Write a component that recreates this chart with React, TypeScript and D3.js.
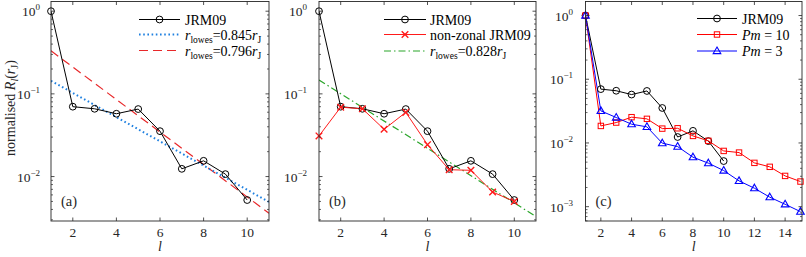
import React from "react";
import * as d3 from "d3";

// ---- data ----
const lA = [1, 2, 3, 4, 5, 6, 7, 8, 9, 10];
const jrm09 = [1.0, 0.070, 0.066, 0.0575, 0.0655, 0.0354, 0.0124, 0.0155, 0.0107, 0.0052];
const nonZonal = [0.031, 0.069, 0.066, 0.0373, 0.0598, 0.0243, 0.0121, 0.0119, 0.0065, 0.0050];
const fitL = [1, 11];
const fit845 = [0.144, 0.00493];
const fit796 = [0.332, 0.0036];
const fit828 = [0.147, 0.00328];
const lC = [1, 2, 3, 4, 5, 6, 7, 8, 9, 10, 11, 12, 13, 14, 15];
const pm10 = [1.0, 0.0185, 0.0209, 0.0254, 0.0239, 0.0168, 0.0170, 0.0129, 0.0108, 0.0075, 0.00707, 0.00487, 0.00422, 0.00304, 0.00248];
const pm3 = [1.0, 0.0319, 0.0251, 0.0197, 0.0179, 0.00993, 0.00877, 0.00598, 0.00482, 0.00369, 0.00254, 0.00195, 0.00141, 0.00109, 0.000837];
const xTicksAB = [2, 4, 6, 8, 10];
const xTicksC = [2, 4, 6, 8, 10, 12, 14];

const FONT = "'Liberation Serif', 'DejaVu Serif', serif";
const AX = "#262626";

type Series = {
  x: number[];
  y: number[];
  color: string;
  width: number;
  dash?: string;
  marker?: "circle" | "cross" | "square" | "triangle";
};

function Marker({ kind, x, y, color }: { kind: string; x: number; y: number; color: string }) {
  if (kind === "circle") return <circle cx={x} cy={y} r={3.4} fill="none" stroke={color} strokeWidth={1} />;
  if (kind === "cross")
    return (
      <path d={`M${x - 3.3},${y - 3.3}L${x + 3.3},${y + 3.3}M${x - 3.3},${y + 3.3}L${x + 3.3},${y - 3.3}`} stroke={color} strokeWidth={1.4} />
    );
  if (kind === "square") return <rect x={x - 2.7} y={y - 2.7} width={5.4} height={5.4} fill="none" stroke={color} strokeWidth={1} />;
  if (kind === "triangle")
    return <path d={`M${x},${y - 4}L${x + 3.8},${y + 2.6}L${x - 3.8},${y + 2.6}Z`} fill="none" stroke={color} strokeWidth={1.1} />;
  return null;
}

function Sup({ e }: { e: string }) {
  return (
    <tspan fontSize={9} dy={-6}>
      {e}
    </tspan>
  );
}

function Panel({
  left, right, top, bottom, xDom, yDom, xTicks, series, label, legend, ytickX,
}: {
  left: number; right: number; top: number; bottom: number;
  xDom: [number, number]; yDom: [number, number]; xTicks: number[];
  series: Series[]; label: string;
  legend: { x0: number; x1: number; tx: number; ys: number[]; items: { s: Series; text: React.ReactNode }[] };
  ytickX: number;
}) {
  const x = d3.scaleLinear().domain(xDom).range([left, right]);
  const y = d3.scaleLog().domain(yDom).range([bottom, top]);
  const line = d3.line<[number, number]>().x((d) => x(d[0])).y((d) => y(d[1]));
  const majors: number[] = [];
  const minors: number[] = [];
  for (let e = -4; e <= 1; e++) {
    for (let k = 1; k <= 9; k++) {
      const v = k * Math.pow(10, e);
      if (v >= yDom[0] && v <= yDom[1]) (k === 1 ? majors : minors).push(v);
    }
  }
  const exps = majors.map((v) => Math.round(Math.log10(v)));
  return (
    <g>
      <defs>
        <clipPath id={`clip-${label}`}>
          <rect x={left} y={top} width={right - left} height={bottom - top} />
        </clipPath>
      </defs>
      <g clipPath={`url(#clip-${label})`}>
        {series.map((s, i) => (
          <path
            key={i}
            d={line(s.x.map((v, j) => [v, s.y[j]] as [number, number])) || ""}
            fill="none"
            stroke={s.color}
            strokeWidth={s.width}
            strokeDasharray={s.dash}
          />
        ))}
      </g>
      {series.map((s, i) =>
        s.marker ? (
          <g key={"m" + i}>
            {s.x.map((v, j) => (
              <Marker key={j} kind={s.marker!} x={x(v)} y={y(s.y[j])} color={s.color} />
            ))}
          </g>
        ) : null
      )}
      {/* frame */}
      <rect x={left} y={top} width={right - left} height={bottom - top} fill="none" stroke={AX} strokeWidth={0.9} />
      {/* x ticks */}
      {xTicks.map((t) => (
        <g key={t}>
          <line x1={x(t)} x2={x(t)} y1={bottom} y2={bottom - 3.5} stroke={AX} strokeWidth={0.8} />
          <line x1={x(t)} x2={x(t)} y1={top} y2={top + 3.5} stroke={AX} strokeWidth={0.8} />
          <text x={x(t)} y={bottom + 16} textAnchor="middle" fontFamily={FONT} fontSize={13.5} fill={AX}>
            {t}
          </text>
        </g>
      ))}
      {/* y ticks */}
      {majors.map((v, i) => (
        <g key={v}>
          <line x1={left} x2={left + 3.5} y1={y(v)} y2={y(v)} stroke={AX} strokeWidth={0.8} />
          <line x1={right} x2={right - 3.5} y1={y(v)} y2={y(v)} stroke={AX} strokeWidth={0.8} />
          <text x={ytickX} y={y(v) + 5} textAnchor="end" fontFamily={FONT} fontSize={13.5} fill={AX}>
            10
            <Sup e={exps[i] === 0 ? "0" : "\u2212" + Math.abs(exps[i])} />
          </text>
        </g>
      ))}
      {minors.map((v) => (
        <g key={"n" + v}>
          <line x1={left} x2={left + 2} y1={y(v)} y2={y(v)} stroke={AX} strokeWidth={0.7} />
          <line x1={right} x2={right - 2} y1={y(v)} y2={y(v)} stroke={AX} strokeWidth={0.7} />
        </g>
      ))}
      {/* x label */}
      <text x={(left + right) / 2} y={bottom + 30} textAnchor="middle" fontFamily={FONT} fontStyle="italic" fontSize={14} fill={AX}>
        l
      </text>
      {/* panel label */}
      <text x={left + 10} y={205.5} fontFamily={FONT} fontSize={14.5} fill={AX}>
        ({label})
      </text>
      {/* legend */}
      {legend.items.map((it, i) => (
        <g key={"l" + i}>
          <line x1={legend.x0} x2={legend.x1} y1={legend.ys[i]} y2={legend.ys[i]} stroke={it.s.color} strokeWidth={it.s.width} strokeDasharray={it.s.dash} />
          {it.s.marker ? <Marker kind={it.s.marker} x={(legend.x0 + legend.x1) / 2} y={legend.ys[i]} color={it.s.color} /> : null}
          <text x={legend.tx} y={legend.ys[i] + 5} fontFamily={FONT} fontSize={14} fill="#000">
            {it.text}
          </text>
        </g>
      ))}
    </g>
  );
}

function RLowes({ v }: { v: string }) {
  return (
    <>
      <tspan fontStyle="italic">r</tspan>
      <tspan fontSize={9.5} dy={3}>lowes</tspan>
      <tspan dy={-3}>={v}</tspan>
      <tspan fontStyle="italic">r</tspan>
      <tspan fontSize={9.5} dy={3}>J</tspan>
    </>
  );
}

export default function App() {
  const top = 1.5;
  const bottom = 221;
  const yAB: [number, number] = [0.0029, 1.31];
  const yC: [number, number] = [0.000596, 1.66];

  const black: Series = { x: lA, y: jrm09, color: "#000", width: 1, marker: "circle" };
  const blueDot: Series = { x: fitL, y: fit845, color: "#1f80e0", width: 2, dash: "1.6 2.6" };
  const redDash: Series = { x: fitL, y: fit796, color: "#e8282a", width: 1.2, dash: "9 5" };
  const redX: Series = { x: lA, y: nonZonal, color: "#ff1a1a", width: 1, marker: "cross" };
  const green: Series = { x: fitL, y: fit828, color: "#2aa52a", width: 1.2, dash: "7 3 1.5 3" };
  const redSq: Series = { x: lC, y: pm10, color: "#ff0000", width: 1, marker: "square" };
  const blueTri: Series = { x: lC, y: pm3, color: "#0000ff", width: 1, marker: "triangle" };

  return (
    <svg width={806} height={257} style={{ position: "absolute", left: 0, top: 0, background: "#fff" }}>
      <rect x={0} y={0} width={806} height={257} fill="#fff" />
      <Panel
        left={51} right={269} top={top} bottom={bottom} xDom={[1, 11]} yDom={yAB} xTicks={xTicksAB}
        series={[redDash, blueDot, black]} label="a" ytickX={40}
        legend={{
          x0: 139, x1: 180, tx: 185, ys: [19.5, 34.5, 50.5],
          items: [
            { s: black, text: "JRM09" },
            { s: blueDot, text: <RLowes v="0.845" /> },
            { s: redDash, text: <RLowes v="0.796" /> },
          ],
        }}
      />
      <Panel
        left={319} right={536} top={top} bottom={bottom} xDom={[1, 11]} yDom={yAB} xTicks={xTicksAB}
        series={[green, black, redX]} label="b" ytickX={307}
        legend={{
          x0: 384, x1: 426, tx: 430, ys: [19.5, 34.5, 51],
          items: [
            { s: black, text: "JRM09" },
            { s: redX, text: "non-zonal JRM09" },
            { s: green, text: <RLowes v="0.828" /> },
          ],
        }}
      />
      <Panel
        left={585.5} right={802} top={top} bottom={bottom} xDom={[1, 15.1]} yDom={yC} xTicks={xTicksC}
        series={[black, redSq, blueTri]} label="c" ytickX={573}
        legend={{
          x0: 697, x1: 737, tx: 742, ys: [18.5, 34.5, 51],
          items: [
            { s: black, text: "JRM09" },
            { s: redSq, text: <><tspan fontStyle="italic">Pm</tspan> = 10</> },
            { s: blueTri, text: <><tspan fontStyle="italic">Pm</tspan> = 3</> },
          ],
        }}
      />
      {/* y-axis label */}
      <text transform="translate(15,108) rotate(-90)" textAnchor="middle" fontFamily={FONT} fontSize={14} fill={AX}>
        normalised <tspan fontStyle="italic">R</tspan>
        <tspan fontStyle="italic" fontSize={10} dy={3}>l</tspan>
        <tspan dy={-3}>(</tspan>
        <tspan fontStyle="italic">r</tspan>
        <tspan fontSize={10} dy={3}>J</tspan>
        <tspan dy={-3}>)</tspan>
      </text>
    </svg>
  );
}
